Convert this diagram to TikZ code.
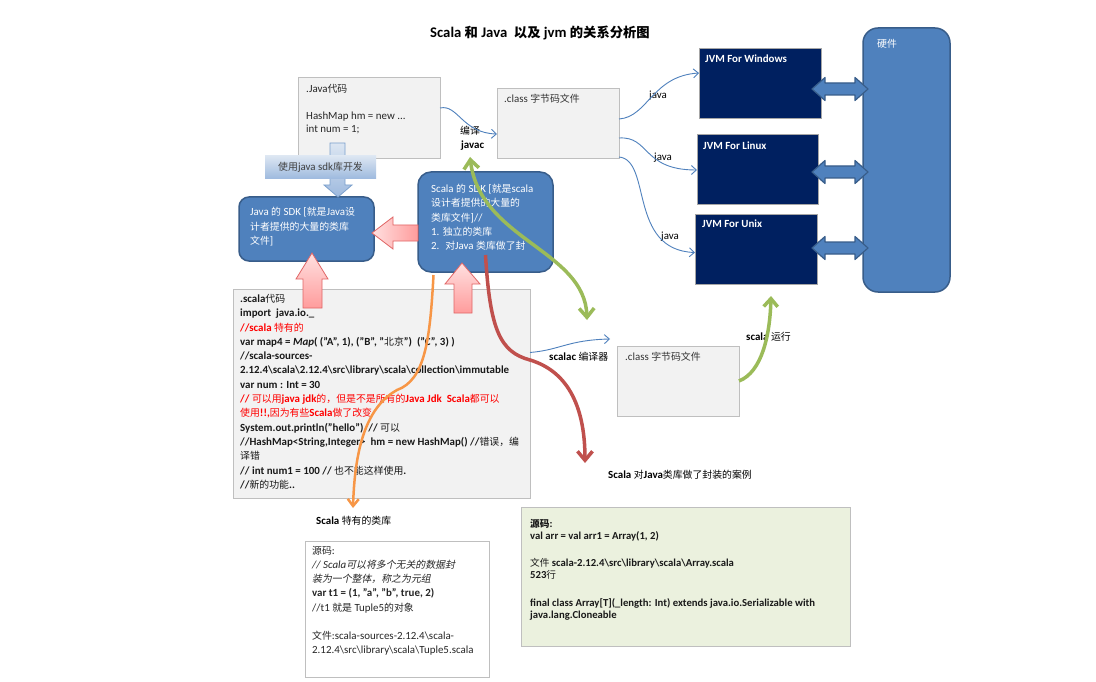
\documentclass[tikz,border=0pt]{standalone}
\usepackage{fontspec}
\setmainfont{Carlito}[Scale=1.15]
\newfontfamily\cjkfont{Noto Sans CJK SC}[Scale=1.04, ItalicFont={Noto Sans CJK SC}, ItalicFeatures={FakeSlant=0.2}]
\usetikzlibrary{arrows.meta}
\XeTeXinterchartokenstate=1
\newXeTeXintercharclass\cjkcls
\makeatletter
\def\setcjkrange#1#2{\count@=#1\relax\loop\ifnum\count@<#2\relax\XeTeXcharclass\count@=\cjkcls\advance\count@\@ne\repeat}
\setcjkrange{"3000}{"3040}
\setcjkrange{"4E00}{"A000}
\setcjkrange{"FF00}{"FFF0}
\makeatother
\def\cjkw{\mdseries}
\XeTeXinterchartoks 0 \cjkcls = {\begingroup\cjkfont\cjkw}
\XeTeXinterchartoks 4095 \cjkcls = {\begingroup\cjkfont\cjkw}
\XeTeXinterchartoks \cjkcls 0 = {\endgroup}
\XeTeXinterchartoks \cjkcls 4095 = {\endgroup}

\definecolor{boxgray}{HTML}{F2F2F2}
\definecolor{boxline}{HTML}{BFBFBF}
\definecolor{sdkblue}{HTML}{4F81BD}
\definecolor{sdkline}{HTML}{385D8A}
\definecolor{navy}{HTML}{002060}
\definecolor{jvmline}{HTML}{A6A6A6}
\definecolor{pinkL}{HTML}{FFE0E0}
\definecolor{pinkD}{HTML}{FF9C9C}
\definecolor{pinkline}{HTML}{E06666}
\definecolor{greenA}{HTML}{9BBB59}
\definecolor{redA}{HTML}{C0504D}
\definecolor{orangeA}{HTML}{F79646}
\definecolor{arrayfill}{HTML}{EBF1DE}
\definecolor{bandtop}{HTML}{DCE6F2}
\definecolor{bandbot}{HTML}{9DB9DE}
\definecolor{bandline}{HTML}{7BA0CD}

\begin{document}
\begin{tikzpicture}[x=1pt,y=-1pt,
  gbox/.style={draw=boxline, fill=boxgray, line width=0.8pt, anchor=north west, inner sep=0pt, outer sep=0pt},
  sdk/.style={draw=sdkline, fill=sdkblue, line width=1.5pt, rounded corners=10pt, anchor=north west, inner sep=0pt, outer sep=0pt},
  jvm/.style={draw=jvmline, fill=navy, line width=1pt, anchor=north west, inner sep=0pt, outer sep=0pt},
  txt/.style={anchor=north west, inner sep=0pt, align=left, font=\fontsize{9.5}{14.3}\selectfont},
  lbl/.style={inner sep=0pt, font=\fontsize{9.5}{12}\selectfont},
  thinarr/.style={draw=sdkblue, line width=0.9pt, -{Straight Barb[length=5pt,width=9pt]}},
  pinkarr/.style={draw=pinkline, line width=0.8pt},
  bluearr/.style={draw=bandline, line width=0.8pt, top color=bandtop, bottom color=bandbot},
  dblarr/.style={draw=sdkline, fill=sdkblue, line width=1.2pt, line join=round},
  greenarr/.style={draw=greenA, line width=3.5pt, {Straight Barb[length=9pt,width=15pt]}-{Straight Barb[length=9pt,width=15pt]}},
  greensingle/.style={draw=greenA, line width=3.5pt, -{Straight Barb[length=8pt,width=14pt]}},
  redarr/.style={draw=redA, line width=3.5pt, -{Straight Barb[length=9pt,width=15pt]}},
  orangearr/.style={draw=orangeA, line width=2.5pt, -{Straight Barb[length=7pt,width=11pt]}}
]
\useasboundingbox[fill=white] (0,0) rectangle (1096,682);

% ---------- boxes ----------
\node[gbox, minimum width=142pt, minimum height=81pt] (javabox) at (298,77) {};
\node[gbox, minimum width=122pt, minimum height=70pt] (cls1) at (497,88) {};
\node[gbox, minimum width=297pt, minimum height=209pt] (scode) at (233,289) {};
\node[sdk, minimum width=135pt, minimum height=64pt] (jsdk) at (239,197) {};
\node[sdk, rounded corners=13pt, minimum width=135pt, minimum height=100pt] (ssdk) at (418,172) {};
\node[gbox, minimum width=122pt, minimum height=70pt] (cls2) at (617,346) {};
\node[jvm, minimum width=122pt, minimum height=70pt] (jvmw) at (699,49) {};
\node[jvm, minimum width=121pt, minimum height=70pt] (jvml) at (697,135) {};
\node[jvm, minimum width=122pt, minimum height=69pt] (jvmu) at (695,215) {};
\node[sdk, rounded corners=15pt, minimum width=87pt, minimum height=264pt] (hw) at (863,28) {};
\node[gbox, fill=white, minimum width=184pt, minimum height=136pt] (tuple) at (305,541) {};
\node[gbox, fill=arrayfill, minimum width=329pt, minimum height=139pt] (array) at (521,507) {};

% ---------- title ----------
\node[lbl, font=\fontsize{12.8}{15}\selectfont\bfseries] (title) at (540,33) {\def\cjkw{}Scala 和 Java~ 以及 jvm 的关系分析图};

% ---------- texts in boxes ----------
\node[txt, font=\fontsize{9.5}{12.5}\selectfont, text=black!85] (jtext) at (306,84) {.Java代码\\[15pt]HashMap hm = new ...\\int num = 1;};
\node[lbl, anchor=west, text=black!80] (cls1t) at (504,99) {.class 字节码文件};
\node[lbl, anchor=west, text=black!80] (cls2t) at (625,357) {.class 字节码文件};
\node[lbl, anchor=west, text=white, font=\fontsize{9.5}{12}\selectfont\bfseries] (jvmwt) at (705,59) {JVM For Windows};
\node[lbl, anchor=west, text=white, font=\fontsize{9.5}{12}\selectfont\bfseries] (jvmlt) at (703,146) {JVM For Linux};
\node[lbl, anchor=west, text=white, font=\fontsize{9.5}{12}\selectfont\bfseries] (jvmut) at (702,224) {JVM For Unix};
\node[lbl, anchor=west, text=white] (hwt) at (877,44) {硬件};

\node[txt, text=white, font=\fontsize{9.5}{14.5}\selectfont] (jsdkt) at (250,207) {Java 的 SDK [就是Java设\\
计者提供的大量的类库\\
文件]};

\node[txt, font=\fontsize{9.5}{14.3}\selectfont\bfseries, text=black!90] (scodet) at (240,294) {.scala代码\\
import~ java.io.\_\\
{\color{red}//scala 特有的}\\
var map4 = \textit{Map}( ("A", 1), ("B", "北京")~ ("C", 3) )\\
//scala-sources-\\
2.12.4\textbackslash scala\textbackslash 2.12.4\textbackslash src\textbackslash library\textbackslash scala\textbackslash collection\textbackslash immutable\\
var num : Int = 30\\
{\color{red}// 可以用java jdk的，但是不是所有的Java Jdk~ Scala都可以}\\
{\color{red}使用!!,因为有些Scala做了改变}\\
System.out.println("hello")~ // 可以\\
//HashMap<String,Integer>~ hm = new HashMap() //错误，编\\
译错\\
// int num1 = 100 // 也不能这样使用.\\
//新的功能..};

\node[txt, font=\fontsize{9.5}{14.2}\selectfont, text=black!85] (tuplet) at (312,546) {源码:\\
\textit{// Scala可以将多个无关的数据封}\\
\textit{装为一个整体，称之为元组}\\
\textbf{var t1 = (1, "a", "b", true, 2)}\\
//t1 就是 Tuple5的对象\\[14.2pt]
文件:scala-sources-2.12.4\textbackslash scala-\\
2.12.4\textbackslash src\textbackslash library\textbackslash scala\textbackslash Tuple5.scala};

\node[txt, font=\fontsize{9.3}{12}\selectfont\bfseries, text=black!90] (arrayt) at (530,519) {{\def\cjkw{}源码}:\\
val arr = val arr1 = Array(1, 2)\\[15pt]
文件 scala-2.12.4\textbackslash src\textbackslash library\textbackslash scala\textbackslash Array.scala\\
523行\\[16pt]
final class Array[T](\_length: Int) extends java.io.Serializable with\\
java.lang.Cloneable};

% ---------- block arrows ----------
\path[bluearr] (330,143) -- (345,143) -- (345,185) -- (352,185) -- (338,197) -- (324,185) -- (330,185) -- cycle;
\node[draw=none, top color=bandtop, bottom color=bandbot, minimum width=111pt, minimum height=23pt, inner sep=0pt, text=black!75, font=\fontsize{9.5}{12}\selectfont] (usejava) at (320.5,167.5) {使用java sdk库开发};

\path[pinkarr, left color=pinkL, right color=pinkD] (418,225) -- (393,225) -- (393,217) -- (372,233) -- (393,249) -- (393,241) -- (418,241) -- cycle;
\path[pinkarr, top color=pinkL, bottom color=pinkD] (312,253) -- (328,279) -- (322,279) -- (322,308) -- (303,308) -- (303,279) -- (296,279) -- cycle;
\path[pinkarr, top color=pinkL, bottom color=pinkD] (462,263) -- (480,284) -- (472,284) -- (472,313) -- (454,313) -- (454,284) -- (445,284) -- cycle;

\foreach \yy in {89,172,248}{
  \path[dblarr] (812,\yy) -- (825,\yy-11.5) -- (825,\yy-6) -- (855,\yy-6) -- (855,\yy-11.5) -- (868,\yy) -- (855,\yy+11.5) -- (855,\yy+6) -- (825,\yy+6) -- (825,\yy+11.5) -- cycle;
}

\node[txt, text=white, font=\fontsize{9.5}{14.3}\selectfont] (ssdkt) at (431,184) {Scala 的 SDK [就是scala\\
设计者提供的大量的\\
类库文件]//\\
1. 独立的类库\\
2.~ 对Java 类库做了封};

% ---------- labels ----------
\node[lbl, anchor=west, font=\fontsize{9.5}{12}\selectfont] (bianyi) at (460,131) {编译};
\node[lbl, anchor=west, font=\fontsize{9.5}{12}\selectfont\bfseries] (javac) at (461,146) {javac};
\node[lbl] (j1) at (658,96) {java};
\node[lbl] (j2) at (663,158) {java};
\node[lbl] (j3) at (670,237) {java};
\node[lbl, anchor=west, font=\fontsize{9.5}{12}\selectfont\bfseries] (scalac) at (549,357) {scalac 编译器};
\node[lbl, anchor=west, font=\fontsize{9.5}{12}\selectfont\bfseries] (scalarun) at (746,337) {scala 运行};
\node[lbl, anchor=west, font=\fontsize{9.5}{12}\selectfont\bfseries] (caselbl) at (608,475) {Scala 对Java类库做了封装的案例};
\node[lbl, anchor=west, font=\fontsize{9.5}{12}\selectfont\bfseries] (speclbl) at (316,521) {Scala 特有的类库};

% ---------- connectors ----------
\draw[thinarr] ([yshift=-31pt]javabox.north east) .. controls (458,104) and (462,133) .. ([yshift=-11pt]cls1.west);
\draw[thinarr] ([yshift=4pt]cls1.east) .. controls (648,117) and (652,76) .. ([yshift=-24pt]jvmw.north west);
\draw[thinarr] ([yshift=-15pt]cls1.east) .. controls (650,136) and (642,170) .. (jvml.west);
\draw[thinarr] ([yshift=-34pt]cls1.east) .. controls (652,160) and (628,250) .. ([yshift=-3pt]jvmu.west);
\draw[thinarr] ([yshift=41pt]scode.east) .. controls (560,350) and (568,340) .. ([shift={(-7pt,7pt)}]cls2.north west);

\coordinate (gA) at (470,157);
\coordinate (gB) at (587,320);
\coordinate (rtip) at (585,463);
\coordinate (otip) at (353,508);
\draw[greenarr] (gA) .. controls (480,240) and (585,250) .. (gB);
\draw[greensingle] (cls2.east) .. controls (762,372) and (770,335) .. ([shift={(15pt,-12pt)}]jvmu.south);
\draw[redarr] ([yshift=17pt]ssdk.south) .. controls (490,330) and (500,352) .. (530,360) .. controls (570,372) and (585,410) .. (rtip);
\draw[orangearr] ([shift={(-52pt,-3pt)}]ssdk.south) .. controls (430,340) and (425,380) .. (397,390) .. controls (370,405) and (355,440) .. (otip);
\end{tikzpicture}
\end{document}
